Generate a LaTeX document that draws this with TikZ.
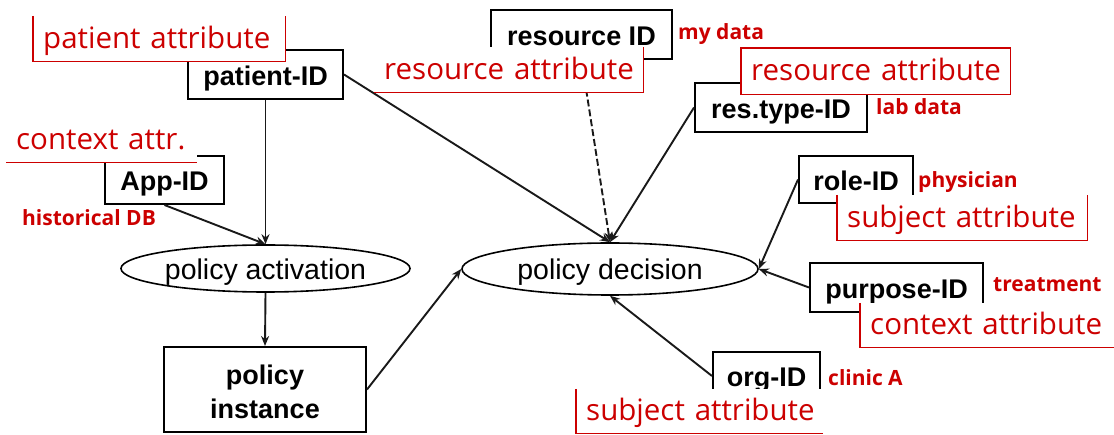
\documentclass[tikz,border=0pt]{standalone}
\usepackage{fontspec}
\setmainfont{Liberation Sans}
\newfontfamily\redfont{Open Sans}
\usetikzlibrary{shapes.geometric,arrows.meta}
\definecolor{attrred}{RGB}{204,0,0}
\begin{document}
\begin{tikzpicture}[x=1pt,y=-1pt,
  idbox/.style={draw=black, line width=2pt, fill=white, inner sep=0pt, text height=22pt, text depth=0pt, font=\fontsize{27}{32}\selectfont\bfseries},
  oval/.style={ellipse, draw=black, line width=1.6pt, fill=white, inner sep=0pt, text height=22pt, text depth=0pt, font=\fontsize{28.5}{34}\selectfont},
  conn/.style={line width=1.9pt, draw=black!90, -{Stealth[length=10pt,width=8pt]}},
  rbox/.style={fill=white, inner xsep=10pt, inner ysep=0pt, anchor=north west, text height=19pt, text depth=0pt, text=attrred, align=left, text width=#1, font=\redfont\fontsize{29.5}{34}\selectfont},
  redge/.style={draw=attrred, line width=1.5pt},
  rtag/.style={anchor=base west, inner sep=0pt, text=attrred, font=\redfont\bfseries\fontsize{21}{25}\selectfont}
]
\useasboundingbox (0,0) rectangle (1114,435);

% ovals
\node[oval, minimum width=289pt, minimum height=47pt] (pact) at (265.5,268.5) {policy activation};
\node[oval, minimum width=296pt, minimum height=52pt] (pdec) at (610,269) {policy decision};

% black id boxes
\node[idbox, minimum width=155pt, minimum height=49pt] (patient) at (265.5,74.5) {patient-ID};
\node[idbox, minimum width=119pt, minimum height=48pt] (app) at (164.5,180) {App-ID};
\node[idbox, minimum width=181pt, minimum height=49pt] (resource) at (581.5,34.5) {resource ID};
\node[idbox, minimum width=172pt, minimum height=49pt] (restype) at (781,107.5) {res.type-ID};
\node[idbox, minimum width=114pt, minimum height=47pt] (role) at (856,179.5) {role-ID};
\node[idbox, minimum width=173pt, minimum height=49pt] (purpose) at (896.5,287.5) {purpose-ID};
\node[idbox, minimum width=107pt, minimum height=48pt] (org) at (766.5,376) {org-ID};
\node[idbox, minimum width=202pt, minimum height=85pt, align=center, text height=59pt, text depth=0pt, font=\fontsize{27}{34}\selectfont\bfseries] (pinst) at (265,389.5) {policy\\instance};

% connectors
\draw[conn] (patient.south) -- (pact.north);
\draw[conn] (app.south) -- (pact.north);
\draw[conn] (pact.south) -- (pinst.north);
\draw[conn] (pinst.east) -- (pdec.west);
\draw[conn] (patient.east) -- (pdec.north);
\draw[conn, dash pattern=on 7pt off 3pt] (resource.south) -- (pdec.north);
\draw[conn] (restype.west) -- (pdec.north);
\draw[conn] (role.west) -- (pdec.east);
\draw[conn] (purpose.west) -- (pdec.east);
\draw[conn] (org.west) -- (pdec.south);

% red attribute boxes
\node[rbox=232pt, minimum height=45pt] (ra) at (33,16) {\mbox{patient attribute}};
\draw[redge] (ra.north west) -- (ra.south west) -- (ra.south east) -- (ra.north east);
\node[rbox=249pt, minimum height=45pt] (rb) at (374,47) {\mbox{resource attribute}};
\draw[redge] (rb.south west) -- (rb.south east) -- (rb.north east);
\node[rbox=249pt, minimum height=46pt] (rc) at (741,48) {\mbox{resource attribute}};
\draw[redge] (rc.north west) rectangle (rc.south east);
\node[rbox=230pt, minimum height=45pt] (rd) at (837,195) {\mbox{subject attribute}};
\draw[redge] (rd.north west) -- (rd.south west) -- (rd.south east) -- (rd.north east);
\node[rbox=234pt, minimum height=44pt] (re) at (860,303) {\mbox{context attribute}};
\draw[redge] (re.north west) -- (re.south west) -- (re.south east);
\node[rbox=227pt, minimum height=44pt] (rf) at (576,389) {\mbox{subject attribute}};
\draw[redge] (rf.north west) -- (rf.south west) -- (rf.south east);
\node[rbox=171pt, minimum height=45pt] (rg) at (6,117) {\mbox{context attr.}};
\draw[redge] (rg.south west) -- (rg.south east);

% red value tags
\node[rtag] (tmy) at (678,40) {my data};
\node[rtag] (tlab) at (876,115) {lab data};
\node[rtag] (tphys) at (918,188) {physician};
\node[rtag] (ttreat) at (993,292) {treatment};
\node[rtag] (tclinic) at (828,386) {clinic A};
\node[rtag] (thist) at (22,226) {historical DB};
\end{tikzpicture}
\end{document}
